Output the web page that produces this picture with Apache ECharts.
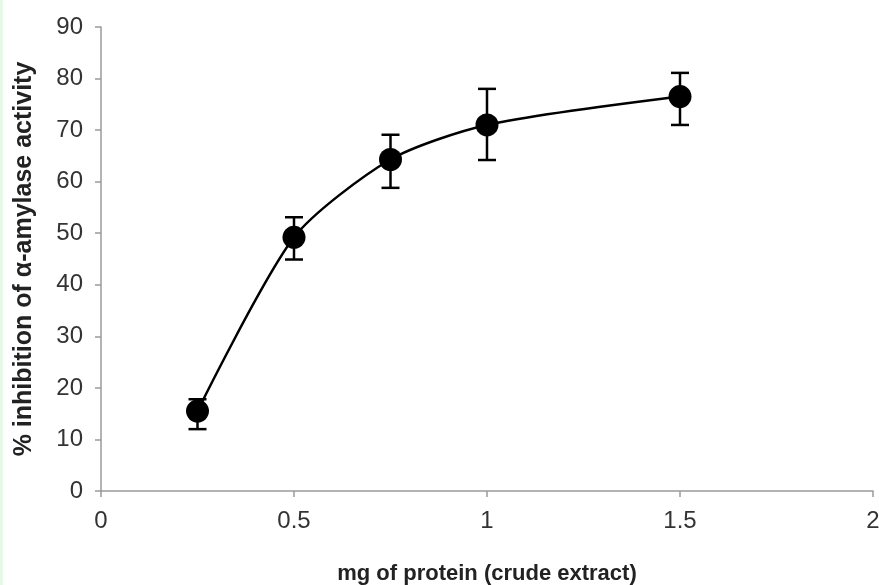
<!DOCTYPE html>
<html>
<head>
<meta charset="utf-8">
<script src="https://cdn.jsdelivr.net/npm/echarts@6/dist/echarts.min.js"></script>
<style>
html,body{margin:0;padding:0;background:#fff;overflow:hidden;}
#wrap{position:relative;width:879px;height:585px;}
#strip{position:absolute;left:0;top:0;width:3px;height:585px;background:#e6f8e6;}
#chart{position:absolute;left:0;top:0;width:879px;height:585px;}
</style>
</head>
<body>
<div id="wrap"><div id="chart"></div><div id="strip"></div></div>
<script>
const xValues = [0.25, 0.5, 0.75, 1, 1.5];
const meanValues = [15.5, 49.2, 64.3, 71.0, 76.5];
const lowValues = [12.0, 44.9, 58.8, 64.2, 71.0];
const highValues = [17.8, 53.1, 69.1, 78.0, 81.1];
const xTicks = [0, 0.5, 1, 1.5, 2];
const yTicks = [0, 10, 20, 30, 40, 50, 60, 70, 80, 90];

const font = 'Liberation Sans, Arial, sans-serif';
const lineData = xValues.map((x, i) => [x, meanValues[i]]);
const errData = xValues.map((x, i) => [x, lowValues[i], highValues[i]]);

const chart = echarts.init(document.getElementById('chart'), null, {renderer: 'canvas'});
chart.setOption({
  animation: false,
  backgroundColor: '#fff',
  grid: {left: 101, right: 6, top: 27, bottom: 94, containLabel: false, outerBoundsMode: 'none'},
  xAxis: {
    type: 'value', min: 0, max: 2, interval: 0.5,
    name: 'mg of protein (crude extract)', nameLocation: 'middle', nameGap: 72,
    nameTextStyle: {fontFamily: font, fontSize: 22, fontWeight: 'bold', color: '#222', verticalAlign: 'top'},
    axisLine: {show: true, lineStyle: {color: '#9a9a9a', width: 1.5}},
    axisTick: {show: true, length: 6, inside: false, lineStyle: {color: '#9a9a9a', width: 1.5}},
    axisLabel: {fontFamily: font, fontSize: 24, color: '#333', margin: 18,
      formatter: v => xTicks.includes(v) ? String(v) : ''},
    splitLine: {show: false}
  },
  yAxis: {
    type: 'value', min: 0, max: 90, interval: 10,
    name: '% inhibition of α-amylase activity', nameLocation: 'middle', nameGap: 64,
    nameTextStyle: {fontFamily: font, fontSize: 25, fontWeight: 'bold', color: '#222', verticalAlign: 'bottom'},
    axisLine: {show: true, lineStyle: {color: '#9a9a9a', width: 1.5}},
    axisTick: {show: true, length: 6, inside: false, lineStyle: {color: '#9a9a9a', width: 1.5}},
    axisLabel: {fontFamily: font, fontSize: 24, color: '#333', margin: 18,
      formatter: v => yTicks.includes(v) ? String(v) : ''},
    splitLine: {show: false}
  },
  series: [
    {
      type: 'line', data: lineData, smooth: 0.25,
      symbol: 'circle', symbolSize: 23,
      lineStyle: {color: '#000', width: 2.5},
      itemStyle: {color: '#000'},
      z: 3
    },
    {
      type: 'custom', data: errData, z: 4,
      renderItem: function (params, api) {
        const x = api.value(0);
        const lo = api.coord([x, api.value(1)]);
        const hi = api.coord([x, api.value(2)]);
        const w = 9;
        const st = {stroke: '#000', lineWidth: 2.5};
        return {
          type: 'group',
          children: [
            {type: 'line', shape: {x1: lo[0], y1: lo[1], x2: hi[0], y2: hi[1]}, style: st},
            {type: 'line', shape: {x1: lo[0] - w, y1: lo[1], x2: lo[0] + w, y2: lo[1]}, style: st},
            {type: 'line', shape: {x1: hi[0] - w, y1: hi[1], x2: hi[0] + w, y2: hi[1]}, style: st}
          ]
        };
      }
    }
  ]
});
</script>
</body>
</html>
